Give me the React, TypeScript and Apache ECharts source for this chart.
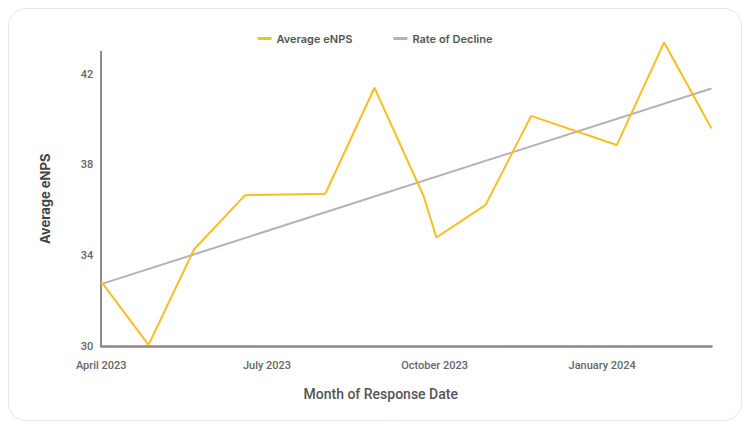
// eNPS trend chart: monthly average with a linear trend line
import { useEffect, useRef } from "react";
import * as echarts from "echarts";

const responseDates = [
  "2023-04-01", "2023-04-27", "2023-05-22", "2023-06-19", "2023-08-02",
  "2023-08-29", "2023-09-25", "2023-10-02", "2023-10-29", "2023-11-23",
  "2024-01-09", "2024-02-04", "2024-03-01",
];
const averageEnps = [
  32.84, 30.05, 34.27, 36.66, 36.72, 41.4, 36.61, 34.79, 36.23, 40.16,
  38.87, 43.4, 39.6,
];
const trendDates = ["2023-04-01", "2024-03-01"];
const trendValues = [32.73, 41.37];
const xTickDates = ["2023-04-01", "2023-07-01", "2023-10-01", "2024-01-01"];
const yTicks = [30, 34, 38, 42];

const MONTHS = [
  "January", "February", "March", "April", "May", "June",
  "July", "August", "September", "October", "November", "December",
];

const DAY = 86400000;
const ts = (s: string) => {
  const [y, m, d] = s.split("-").map(Number);
  return Date.UTC(y, m - 1, d);
};
// days since the first response date, so a plain value axis keeps real spacing
const day = (s: string) => Math.round((ts(s) - ts(trendDates[0])) / DAY);

export default function App() {
  const ref = useRef<HTMLDivElement>(null);

  useEffect(() => {
    if (!ref.current) return;
    const chart = echarts.init(ref.current, null, { renderer: "svg" });
    chart.setOption({
      animation: false,
      legend: {
        top: 19,
        left: "center",
        icon: "rect",
        itemWidth: 14,
        itemHeight: 3,
        itemGap: 41,
        textStyle: {
          fontFamily: "Inter",
          fontSize: 11,
          fontWeight: 600,
          color: "#555",
        },
        data: ["Average eNPS", "Rate of Decline"],
      },
      grid: { left: 92.2, right: 29.5, top: 42.5, bottom: 74 },
      xAxis: {
        type: "value",
        min: 0,
        max: day(trendDates[1]),
        axisLine: { lineStyle: { color: "#8a8785", width: 2.5 } },
        axisTick: { show: false },
        splitLine: { show: false },
        axisLabel: {
          customValues: xTickDates.map(day),
          margin: 14,
          fontFamily: "Roboto",
          fontSize: 11,
          fontWeight: 500,
          color: "#666",
          formatter: (v: number) => {
            const d = new Date(ts(trendDates[0]) + v * DAY);
            return `${MONTHS[d.getUTCMonth()]} ${d.getUTCFullYear()}`;
          },
        },
      },
      yAxis: {
        type: "value",
        min: 30,
        max: 43,
        name: "Average eNPS",
        nameLocation: "middle",
        nameGap: 50,
        nameTextStyle: {
          fontFamily: "Inter",
          fontSize: 13,
          fontWeight: 700,
          color: "#444",
        },
        axisLine: { show: true, lineStyle: { color: "#666", width: 1.5 } },
        axisTick: { show: false },
        splitLine: { show: false },
        axisLabel: {
          customValues: yTicks,
          margin: 8,
          fontFamily: "Roboto",
          fontSize: 11,
          fontWeight: 500,
          color: "#666",
        },
      },
      graphic: [
        {
          type: "text",
          left: 371.5 - 77,
          top: 378,
          style: {
            text: "Month of Response Date",
            fontFamily: "Roboto",
            fontSize: 14,
            fontWeight: 500,
            fill: "#555",
          },
        },
      ],
      series: [
        {
          name: "Average eNPS",
          type: "line",
          clip: false,
          showSymbol: false,
          data: responseDates.map((d, i) => [day(d), averageEnps[i]]),
          lineStyle: { color: "#FBBD23", width: 2 },
          itemStyle: { color: "#FBBD23" },
          z: 3,
        },
        {
          name: "Rate of Decline",
          type: "line",
          showSymbol: false,
          data: trendDates.map((d, i) => [day(d), trendValues[i]]),
          lineStyle: { color: "#b3b3b3", width: 2 },
          itemStyle: { color: "#b3b3b3" },
          z: 2,
        },
      ],
    });
    return () => chart.dispose();
  }, []);

  return (
    <div
      style={{
        width: 734,
        height: 413,
        border: "1.5px solid #e6e6e2",
        borderRadius: 18,
        boxSizing: "border-box",
        background: "#fff",
      }}
    >
      <div ref={ref} style={{ width: "100%", height: "100%" }} />
    </div>
  );
}
